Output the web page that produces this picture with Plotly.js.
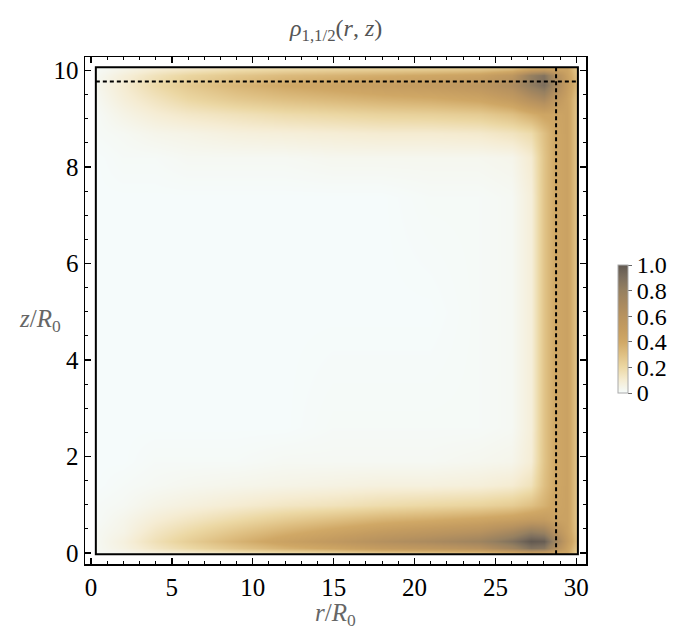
<!DOCTYPE html>
<html>
<head>
<meta charset="utf-8">
<script src="https://cdn.plot.ly/plotly-3.0.1.min.js"></script>
<style>
  body { margin: 0; background: #fff; }
  #density-graph { width: 679px; height: 630px; }
</style>
</head>
<body>
<div id="density-graph"></div>
<script>
// grid of the density map
var r_vals = [0.3, 2, 4, 6, 9, 12, 15, 18, 21, 24, 26, 27.2, 28, 28.7, 29.4, 30.1];
var z_vals = [-0.03, 0.1, 0.25, 0.45, 0.7, 1.0, 1.4, 1.9, 2.6, 5, 7.4, 8.2, 8.7, 9.1, 9.4, 9.7, 9.9, 10.07];

// rho_{1,1/2}(r, z), one row per z value
var rho = [
    [0.01, 0.02, 0.05, 0.07, 0.1, 0.13, 0.16, 0.19, 0.2, 0.22, 0.27, 0.32, 0.32, 0.35, 0.4, 0.2],
    [0.02, 0.06, 0.13, 0.19, 0.28, 0.36, 0.42, 0.5, 0.54, 0.6, 0.74, 0.88, 0.85, 0.64, 0.45, 0.25],
    [0.02, 0.07, 0.16, 0.24, 0.35, 0.45, 0.53, 0.62, 0.68, 0.75, 0.88, 1.0, 0.98, 0.76, 0.5, 0.28],
    [0.02, 0.05, 0.13, 0.19, 0.28, 0.36, 0.43, 0.5, 0.55, 0.6, 0.7, 0.8, 0.76, 0.6, 0.46, 0.26],
    [0.01, 0.04, 0.09, 0.13, 0.19, 0.25, 0.3, 0.35, 0.38, 0.42, 0.46, 0.5, 0.5, 0.45, 0.45, 0.25],
    [0.01, 0.02, 0.05, 0.07, 0.1, 0.13, 0.15, 0.18, 0.2, 0.22, 0.25, 0.3, 0.36, 0.42, 0.45, 0.25],
    [0, 0.01, 0.02, 0.03, 0.04, 0.05, 0.06, 0.07, 0.07, 0.08, 0.1, 0.15, 0.3, 0.4, 0.45, 0.25],
    [0, 0, 0.01, 0.01, 0.01, 0.02, 0.02, 0.02, 0.02, 0.03, 0.04, 0.09, 0.28, 0.4, 0.45, 0.25],
    [0, 0, 0, 0, 0, 0, 0.01, 0.01, 0.01, 0.01, 0.02, 0.08, 0.28, 0.4, 0.45, 0.25],
    [0, 0, 0, 0, 0, 0, 0, 0, 0, 0.01, 0.02, 0.08, 0.28, 0.4, 0.45, 0.25],
    [0, 0, 0, 0, 0, 0, 0, 0, 0.01, 0.01, 0.02, 0.08, 0.28, 0.4, 0.45, 0.25],
    [0, 0.01, 0.01, 0.02, 0.02, 0.02, 0.03, 0.03, 0.03, 0.03, 0.04, 0.1, 0.28, 0.4, 0.45, 0.25],
    [0.01, 0.02, 0.04, 0.05, 0.07, 0.08, 0.09, 0.1, 0.1, 0.11, 0.14, 0.18, 0.3, 0.4, 0.45, 0.25],
    [0.01, 0.05, 0.09, 0.12, 0.15, 0.18, 0.2, 0.22, 0.23, 0.25, 0.3, 0.37, 0.42, 0.42, 0.45, 0.25],
    [0.02, 0.08, 0.14, 0.2, 0.26, 0.3, 0.33, 0.36, 0.38, 0.42, 0.5, 0.62, 0.68, 0.55, 0.45, 0.26],
    [0.03, 0.1, 0.19, 0.26, 0.34, 0.4, 0.44, 0.48, 0.51, 0.56, 0.66, 0.82, 0.9, 0.72, 0.5, 0.3],
    [0.02, 0.08, 0.15, 0.21, 0.27, 0.32, 0.35, 0.38, 0.41, 0.45, 0.55, 0.8, 0.88, 0.65, 0.46, 0.27],
    [0.01, 0.04, 0.08, 0.1, 0.14, 0.16, 0.18, 0.19, 0.2, 0.22, 0.26, 0.33, 0.36, 0.38, 0.42, 0.24]
];

// box edges and the dashed cut lines
var r_box = [0.3, 30.1];
var z_box = [-0.03, 10.07];
var r_cut = 28.75;
var z_cut = 9.77;

// tick labels
var x_ticks = [0, 5, 10, 15, 20, 25, 30];
var y_ticks = [0, 2, 4, 6, 8, 10];
var cb_ticks = [0, 0.2, 0.4, 0.6, 0.8, 1.0];
var cb_text = ['0', '0.2', '0.4', '0.6', '0.8', '1.0'];

var serif = 'Liberation Serif';

function draw() {
    var trace = {
        type: 'contour',
        x: r_vals,
        y: z_vals,
        z: rho,
        zmin: 0,
        zmax: 1,
        contours: {coloring: 'heatmap', showlines: false},
        line: {width: 0},
        colorscale: [
            [0, '#f5fbfb'], [0.1, '#f5ecd2'], [0.2, '#ecd8a4'], [0.3, '#dfc083'],
            [0.4, '#d0a866'], [0.5, '#c49c60'], [0.6, '#b8935f'], [0.7, '#a8895f'],
            [0.8, '#968060'], [0.9, '#7d6f5e'], [1, '#625951']
        ],
        hoverinfo: 'skip',
        colorbar: {
            x: 1.063, xanchor: 'left', xpad: 0,
            y: 0.4635, yanchor: 'middle', ypad: 0,
            len: 0.252, lenmode: 'fraction',
            thickness: 10,
            outlinewidth: 1, outlinecolor: '#aaa',
            tickvals: cb_ticks, ticktext: cb_text,
            ticks: 'outside', ticklen: 4, tickcolor: '#666',
            tickfont: {family: serif, size: 24, color: '#000'}
        }
    };

    var axis_common = {
        showgrid: false, zeroline: false,
        showline: true, linecolor: '#000', linewidth: 1.5,
        mirror: 'ticks',
        ticks: 'inside', ticklen: 6, tickwidth: 1.3, tickcolor: '#000',
        tickfont: {family: serif, size: 25, color: '#000'}
    };

    var layout = {
        width: 679,
        height: 630,
        margin: {l: 85, r: 87, t: 57, b: 66, pad: 0},
        paper_bgcolor: '#fff',
        plot_bgcolor: '#fff',
        showlegend: false,
        xaxis: Object.assign({}, axis_common, {
            range: [-0.37, 30.6],
            tickvals: x_ticks,
            minor: {dtick: 1, ticks: 'inside', ticklen: 3, tickwidth: 1, tickcolor: '#000'}
        }),
        yaxis: Object.assign({}, axis_common, {
            range: [-0.23, 10.28],
            tickvals: y_ticks,
            minor: {dtick: 0.5, ticks: 'inside', ticklen: 3, tickwidth: 1, tickcolor: '#000'}
        }),
        shapes: [
            {type: 'rect', xref: 'x', yref: 'y', x0: r_box[0], x1: r_box[1], y0: z_box[0], y1: z_box[1],
             line: {color: '#000', width: 2}},
            {type: 'line', xref: 'x', yref: 'y', x0: r_cut, x1: r_cut, y0: z_box[0], y1: z_box[1],
             line: {color: '#000', width: 2, dash: '4px,3px'}},
            {type: 'line', xref: 'x', yref: 'y', x0: r_box[0], x1: r_box[1], y0: z_cut, y1: z_cut,
             line: {color: '#000', width: 2, dash: '4px,3px'}}
        ],
        annotations: [
            {xref: 'paper', yref: 'paper', x: 0.5, y: 1.053, xanchor: 'center', yanchor: 'middle',
             showarrow: false,
             text: '<i>ρ</i><sub>1,1/2</sub>(<i>r</i>, <i>z</i>)',
             font: {family: serif, size: 24, color: '#555'}},
            {xref: 'paper', yref: 'paper', x: 0.5, y: -0.1, xanchor: 'center', yanchor: 'middle',
             showarrow: false,
             text: '<i>r</i>/<i>R</i><sub>0</sub>',
             font: {family: serif, size: 25, color: '#666'}},
            {xref: 'paper', yref: 'paper', x: -0.089, y: 0.481, xanchor: 'center', yanchor: 'middle',
             showarrow: false,
             text: '<i>z</i>/<i>R</i><sub>0</sub>',
             font: {family: serif, size: 25, color: '#666'}}
        ]
    };

    Plotly.newPlot('density-graph', [trace], layout, {staticPlot: true});
}

draw();
</script>
</body>
</html>
